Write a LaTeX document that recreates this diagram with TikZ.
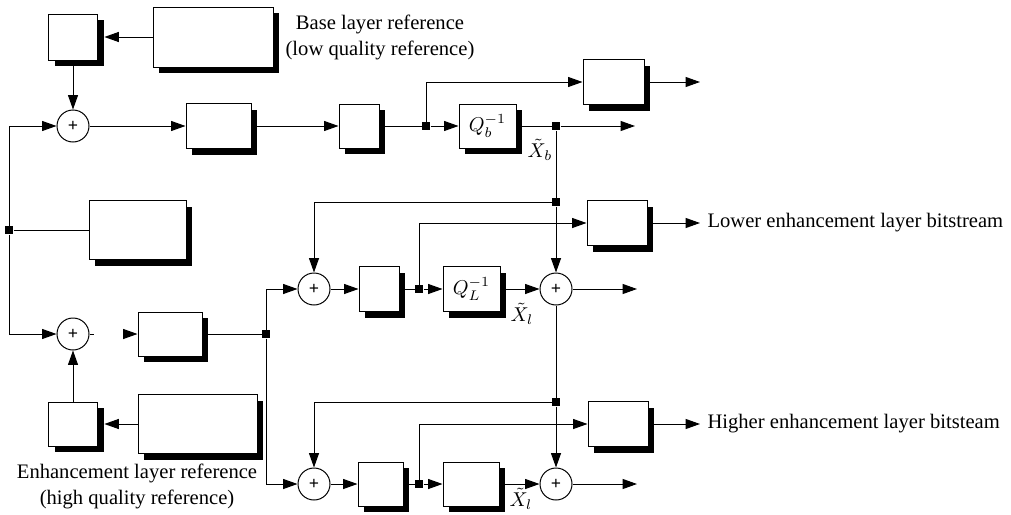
\documentclass[tikz,border=0pt]{standalone}
\usepackage{fontspec}
\setmainfont{Liberation Serif}
\usetikzlibrary{arrows.meta,shadows}

\begin{document}
\begin{tikzpicture}[line width=0.5pt,>={Triangle[length=7.2pt,width=5pt]},
  x={(0.5pt,0pt)}, y={(0pt,-0.5pt)},
  font=\fontsize{10.3}{13}\selectfont]
\tikzset{blk/.style={draw=black,fill=white,inner sep=0pt,
    drop shadow={shadow xshift=3.2pt,shadow yshift=-3.2pt,fill=black,opacity=1}},
  sum/.style={circle,draw=black,fill=white,minimum size=16pt,inner sep=0pt,
    font=\fontsize{9}{9}\selectfont\bfseries},
  jn/.style={fill=black,minimum size=4pt,inner sep=0pt},
  lbl/.style={inner sep=0pt}}
\useasboundingbox (0,0) rectangle (1011,514);
\newcommand\bx[6]{\node[blk,minimum width=#4*0.5pt,minimum height=#5*0.5pt] (#1) at (#2,#3) {#6};}
\newcommand\ad[3]{\node[sum] (#1) at (#2,#3) {+};}
\newcommand\jn[3]{\node[jn] (#1) at (#2,#3) {};}
% ---------- base layer ----------
\bx{bfb}{213}{37}{120}{60}{} \bx{bmc}{73}{37}{49}{46}{}
\ad{bsum}{73}{126}
\bx{bdct}{218.5}{126}{65}{45}{} \bx{bq}{359}{126}{40}{44}{}
\jn{bja}{426}{126} \bx{bqi}{487.5}{126}{57}{44}{$Q_b^{-1}$}
\jn{bjb}{556}{126} \jn{bjc}{556}{202}
\bx{bvlc}{613.5}{82}{61}{45}{}
\coordinate (bout) at (635,126); \coordinate (bvout) at (700,82);
% ---------- left side ----------
\jn{lj}{9}{230} \bx{mid}{137.5}{230}{97}{59}{}
\ad{esum}{73}{334} \coordinate (egap) at (123,334);
\bx{edct}{170}{334}{64}{44}{} \jn{ej}{266}{334}
\bx{emc}{73}{424}{49}{44}{} \bx{efb}{197.5}{424}{119}{59}{}
% ---------- lower enhancement layer ----------
\ad{lsum}{314}{289} \bx{lq}{379}{289}{40}{45}{} \jn{ljq}{419}{289}
\bx{lqi}{471.5}{289}{57}{45}{$Q_L^{-1}$} \ad{lsumb}{556}{289}
\bx{lvlc}{617}{223}{60}{45}{} \coordinate (lout) at (637,289);
% ---------- higher enhancement layer ----------
\jn{hja}{556}{402}
\ad{hsum}{314}{484} \bx{hq}{380.5}{484}{45}{44}{} \jn{hjq}{419}{484}
\bx{hqi}{471}{484}{56}{44}{} \ad{hsumb}{556}{484}
\bx{hvlc}{618}{424}{60}{45}{} \coordinate (hout) at (637,484);
% ---------- texts ----------
\node[align=center] (btxt) at (380,37) {Base layer reference\\(low quality reference)};
\node[align=center] (etxt) at (137,486) {Enhancement layer reference\\(high quality reference)};
\node[anchor=west,inner xsep=3.5pt] (ltxt) at (700,223) {Lower enhancement layer bitstream};
\node[anchor=west,inner xsep=3.5pt] (htxt) at (700,424) {Higher enhancement layer bitsteam};
\node[lbl] (xb) at (540,150) {$\tilde{X}_b$};
\node[lbl] (xla) at (522,314) {$\tilde{X}_l$};
\node[lbl] (xlb) at (521,499) {$\tilde{X}_l$};
% ---------- connectors ----------
\draw[->,shorten >=3.2pt] (bfb.west) -- (bfb.west -| bmc.east);
\draw[->] (bmc) -- (bsum);
\draw[->] (lj) |- (bsum); \draw[->] (lj) |- (esum); \draw (lj) -- (mid);
\draw[->] (bsum) -- (bdct); \draw[->] (bdct) -- (bq); \draw (bq) -- (bja);
\draw[->] (bja) -- (bqi); \draw (bqi) -- (bjb); \draw[->] (bjb) -- (bout);
\draw[->] (bja) |- (bvlc); \draw[->] (bvlc) -- (bvout);
\draw (bjb) -- (bjc); \draw[->] (bjc) -| (lsum); \draw[->] (bjc) -- (lsumb);
\draw (esum.east) -- ++(4,0); \draw[->] (egap) -- (edct);
\draw (edct) -- (ej); \draw[->] (ej) |- (lsum); \draw[->] (ej) |- (hsum);
\draw[->,shorten >=3.2pt] (efb.west) -- (efb.west -| emc.east);
\draw[->] (emc) -- (esum);
\draw[->] (lsum) -- (lq); \draw (lq) -- (ljq); \draw[->] (ljq) -- (lqi);
\draw[->] (lqi) -- (lsumb); \draw[->] (lsumb) -- (lout);
\draw[->] (ljq) |- (lvlc); \draw[->] (lvlc) -- (ltxt);
\draw (lsumb) -- (hja); \draw[->] (hja) -| (hsum); \draw[->] (hja) -- (hsumb);
\draw[->] (hsum) -- (hq); \draw (hq) -- (hjq); \draw[->] (hjq) -- (hqi);
\draw[->] (hqi) -- (hsumb); \draw[->] (hsumb) -- (hout);
\draw[->] (hjq) |- (hvlc); \draw[->] (hvlc) -- (htxt);
\end{tikzpicture}
\end{document}
